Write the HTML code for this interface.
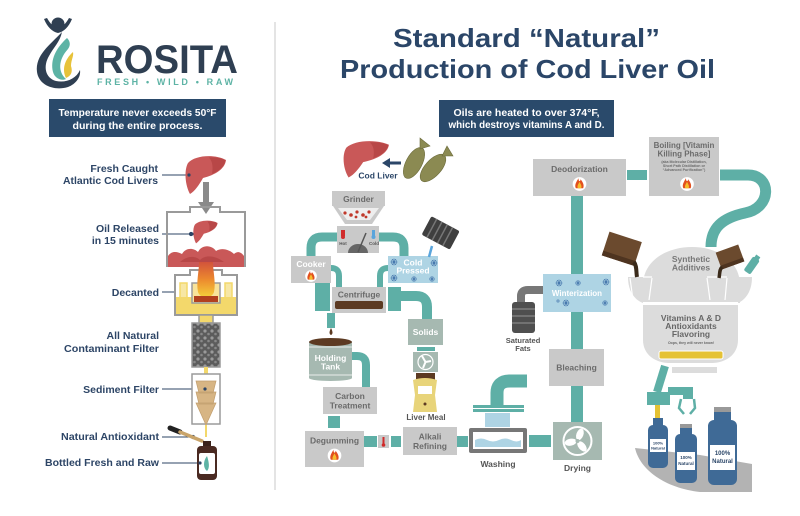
<!DOCTYPE html>
<html><head><meta charset="utf-8"><style>
html,body{margin:0;padding:0;background:#fff;}
svg{display:block;}
text{font-family:"Liberation Sans",sans-serif;font-weight:bold;}
</style></head><body>
<svg width="800" height="516" viewBox="0 0 800 516" xmlns="http://www.w3.org/2000/svg">
<defs>
<g id="fire"><circle r="6.5" fill="#fff"/><path d="M-3.5,4 C-5,1 -3,-2 -1,-5.5 C-1,-2 1,-2 1,-4.5 C3,-2 4.8,1 3.5,4 Z" fill="#e2501e"/><path d="M-1.6,4 C-2.6,2 -1,0 0,-2 C1,0 2.6,2 1.6,4 Z" fill="#f6bd2c"/></g>
<g id="snow" stroke="#3d6fa8" stroke-width="0.8" fill="none"><circle r="3" stroke-width="0.5"/><path d="M-3,0H3M-1.5,-2.6L1.5,2.6M-1.5,2.6L1.5,-2.6"/></g>
<g id="liver"><path d="M3,8 C10,0 30,-1 41,5 C40,14 30,20 18,23 C14,30 10,36 5,39 C0,30 -1,15 3,8 Z" fill="#c95858"/><path d="M24,2.5 C31,2 37,3 40.5,5.5 C39,12 34,16 27,19 C28,13 28,7 24,2.5 Z" fill="#b84747"/></g>
<linearGradient id="flame" x1="0" y1="0" x2="0" y2="1"><stop offset="0" stop-color="#d2533b"/><stop offset="0.5" stop-color="#ec8a2e"/><stop offset="1" stop-color="#f5d03a"/></linearGradient>
<pattern id="pebble" width="7" height="7" patternUnits="userSpaceOnUse"><rect width="7" height="7" fill="#5c5c5c"/><circle cx="2" cy="2" r="1.6" fill="#9a9a9a"/><circle cx="5.5" cy="5" r="1.3" fill="#888"/></pattern>
</defs>
<rect width="800" height="516" fill="#fff"/>

<!-- divider -->
<line x1="275" y1="22" x2="275" y2="490" stroke="#dcdcdc" stroke-width="1.5"/>

<!-- LOGO -->
<circle cx="58" cy="24" r="6.5" fill="#2f3f52"/>
<path d="M44,19 Q49,31 58,33 Q67,31 72,19 L69,18 Q64,27 58,28 Q52,27 47,18 Z" fill="#2f3f52"/>
<path d="M62,32 C50,45 35,55 37,72 C39,86 55,91 68,87 C76,84 81,77 80,70 C76,79 66,83 56,81 C45,78 43,66 49,56 C53,48 60,42 62,32 Z" fill="#2f3f52"/>
<path d="M67,38 C56,48 50,60 53,72 C55,79 62,81 66,79 C58,72 58,60 68,49 C71,45 70,41 67,38 Z" fill="#5db3a5"/>
<path d="M73,52 C64,60 62,70 66,78 C71,76 73,72 71,66 C71,60 74,56 73,52 Z" fill="#e7c23a"/>
<text x="96" y="73" font-size="40" fill="#2f3f52" textLength="142" lengthAdjust="spacingAndGlyphs">ROSITA</text>
<text x="97" y="85" font-size="9" fill="#5db3a5" textLength="136" lengthAdjust="spacing">FRESH • WILD • RAW</text>

<!-- left box -->
<rect x="49" y="99" width="177" height="38" fill="#2a4a6b"/>
<text x="137.5" y="116" font-size="10.5" fill="#fff" text-anchor="middle" textLength="158" lengthAdjust="spacingAndGlyphs">Temperature never exceeds 50°F</text>
<text x="137.5" y="129" font-size="10.5" fill="#fff" text-anchor="middle" textLength="130" lengthAdjust="spacingAndGlyphs">during the entire process.</text>

<!-- left labels -->
<g font-size="10.5" fill="#2d4566" text-anchor="end">
<text x="158" y="172">Fresh Caught</text>
<text x="158" y="184" textLength="95" lengthAdjust="spacingAndGlyphs">Atlantic Cod Livers</text>
<text x="159" y="232">Oil Released</text>
<text x="159" y="244">in 15 minutes</text>
<text x="159" y="296">Decanted</text>
<text x="159" y="339">All Natural</text>
<text x="159" y="352" textLength="95" lengthAdjust="spacingAndGlyphs">Contaminant Filter</text>
<text x="159" y="393">Sediment Filter</text>
<text x="159" y="440" textLength="98" lengthAdjust="spacingAndGlyphs">Natural Antioxidant</text>
<text x="159" y="466" textLength="114" lengthAdjust="spacingAndGlyphs">Bottled Fresh and Raw</text>
</g>
<g stroke="#2d4566" stroke-width="1" fill="#2d4566">
<line x1="162" y1="175" x2="189" y2="175"/><circle cx="189" cy="175" r="1.6"/>
<line x1="162" y1="234" x2="191" y2="234"/><circle cx="191" cy="234" r="1.6"/>
<line x1="162" y1="292" x2="183" y2="292"/><circle cx="183" cy="292" r="1.6"/>
<line x1="162" y1="389" x2="205" y2="389"/><circle cx="205" cy="389" r="1.6"/>
<line x1="162" y1="437" x2="193" y2="437"/><circle cx="193" cy="437" r="1.6"/>
<line x1="162" y1="463" x2="200" y2="463"/><circle cx="200" cy="463" r="1.6"/>
</g>

<!-- left apparatus -->
<use href="#liver" transform="translate(185,155)"/>
<circle cx="189" cy="175" r="1.6" fill="#2d4566"/>
<rect x="203" y="182" width="6" height="22" fill="#8a8a8a"/>
<path d="M198,202 H214 L206,214 Z" fill="#8a8a8a"/>
<path d="M167,267 V212 H190 V207 H220 V212 H245 V267" fill="none" stroke="#9a9a9a" stroke-width="2"/>
<use href="#liver" transform="translate(193,220) scale(0.6)"/>
<circle cx="192" cy="234" r="1.6" fill="#2d4566"/>
<path d="M168,267 V256 C172,250 178,252 182,254 C186,247 194,248 198,252 C202,244 212,245 216,251 C222,247 230,250 234,254 C238,250 242,253 244,256 V267 Z" fill="#c95858"/>
<path d="M180,262 C188,255 196,256 200,260 C206,254 216,256 224,262 Z" fill="#b84747"/>
<!-- decanted -->
<path d="M175,315 V275 H190 V270 H222 V275 H237 V315 Z" fill="#fff" stroke="#9a9a9a" stroke-width="2"/>
<rect x="176" y="297" width="60" height="17" fill="#f3d86b"/>
<path d="M180,297 V283 H187 V297 M225,297 V283 H232 V297" fill="#f7e7a5" stroke="#f3d86b" stroke-width="1.5"/>
<rect x="192" y="283" width="28" height="20" fill="#f8e39a" stroke="#9a9a9a" stroke-width="1.5"/>
<path d="M199,262 C199,272 196,282 198,292 C200,299 212,299 214,292 C216,282 213,272 213,262 Z" fill="url(#flame)"/>
<rect x="194" y="296" width="24" height="6" fill="#b2401e"/>
<rect x="199" y="315" width="14" height="8" fill="#f3d86b" stroke="#9a9a9a" stroke-width="1.5"/>
<rect x="192" y="323" width="28" height="44" fill="url(#pebble)" stroke="#9a9a9a" stroke-width="1.5"/>
<rect x="204" y="367" width="4" height="7" fill="#f3d86b"/>
<rect x="192" y="374" width="28" height="50" fill="#fff" stroke="#9a9a9a" stroke-width="1.5"/>
<path d="M196,381 H216 L213,393 H199 Z M196,392 H216 L213,404 H199 Z M196,403 H216 L206,425 Z" fill="#d7b584" stroke="#c19e6e" stroke-width="0.7"/>
<rect x="205" y="425" width="2" height="12" fill="#f3d86b"/>
<circle cx="205" cy="389" r="1.6" fill="#2d4566"/>
<path d="M170,428 L180,432" stroke="#222" stroke-width="5" stroke-linecap="round"/>
<path d="M180,432 L202,441" stroke="#c9a46a" stroke-width="3.5" stroke-linecap="round"/>
<rect x="203" y="441" width="8" height="6" fill="#3c221b"/>
<rect x="197" y="446" width="20" height="34" rx="4" fill="#4a2a22"/>
<rect x="199" y="453" width="16" height="21" rx="2" fill="#fff"/>
<path d="M207,456 C203,461 203,468 207,471 C210,468 209,462 207,456 Z" fill="#5db3a5"/>
<circle cx="200" cy="463" r="1.6" fill="#2d4566"/>

<!-- TITLE -->
<text x="526.5" y="47" font-size="26" fill="#2b4668" text-anchor="middle" textLength="267" lengthAdjust="spacingAndGlyphs">Standard “Natural”</text>
<text x="527.5" y="78" font-size="26" fill="#2b4668" text-anchor="middle" textLength="375" lengthAdjust="spacingAndGlyphs">Production of Cod Liver Oil</text>
<rect x="439" y="100" width="175" height="37" fill="#2a4a6b"/>
<text x="526.5" y="116" font-size="10" fill="#fff" text-anchor="middle" textLength="146" lengthAdjust="spacingAndGlyphs">Oils are heated to over 374°F,</text>
<text x="526.5" y="128" font-size="10" fill="#fff" text-anchor="middle" textLength="156" lengthAdjust="spacingAndGlyphs">which destroys vitamins A and D.</text>

<!-- cod liver & fish -->
<use href="#liver" transform="translate(343,140) scale(1.12,0.96)"/>
<path d="M401,163 H389" stroke="#2b4668" stroke-width="3"/>
<path d="M390,158 L382,163 L390,168 Z" fill="#2b4668"/>
<text x="378" y="178.5" font-size="8.5" fill="#2b4668" text-anchor="middle">Cod Liver</text>
<g fill="#8b8a52" stroke="#6b6a3a" stroke-width="0.6">
<ellipse cx="414" cy="163" rx="17" ry="8" transform="rotate(-62 414 163)"/>
<path d="M420,149 L420,138 L430,146 Z"/>
<ellipse cx="433" cy="168" rx="17" ry="8" transform="rotate(-48 433 168)"/>
<path d="M442,156 L447,146 L453,156 Z"/>
</g>

<!-- grinder -->
<rect x="332" y="191" width="53" height="15" fill="#c9c9c9"/>
<text x="358.5" y="202" font-size="8.5" fill="#6b6b6b" text-anchor="middle">Grinder</text>
<path d="M333,206 H384 L372,224 H345 Z" fill="#c9c9c9"/>
<path d="M338,208 H379 L370,220 H347 Z" fill="#eee"/>
<g fill="#c0392b"><circle cx="345" cy="213" r="1.6"/><circle cx="351" cy="215" r="1.8"/><circle cx="357" cy="212" r="1.6"/><circle cx="363" cy="215" r="1.8"/><circle cx="369" cy="212" r="1.6"/><circle cx="356" cy="217" r="1.4"/><circle cx="366" cy="217" r="1.4"/></g>
<!-- pipes top -->
<g fill="none" stroke="#5eafa6" stroke-linecap="butt">
<path d="M338,237 H322 Q311,237 311,248 V257" stroke-width="9"/>
<path d="M378,237 H393 Q404,237 404,248 V257" stroke-width="9"/>
<path d="M331,268 Q339,268 339,276 V288" stroke-width="6"/>
<path d="M388,268 Q380,268 380,276 V288" stroke-width="6"/>
<path d="M400,296 H416 Q427,296 427,307 V319" stroke-width="10"/>
<path d="M352,356 H357 Q366,356 366,365 V388" stroke-width="8"/>
<path d="M711,247 C711,228 722,218 745,213 C772,208 772,175 748,175 H720" stroke-width="11"/>
</g>
<rect x="337" y="226" width="42" height="27" fill="#c9c9c9"/>
<path d="M348,253 A10,9 0 0 1 368,253 Z" fill="#666"/>
<line x1="358" y1="252" x2="366" y2="233" stroke="#555" stroke-width="1.5"/>
<rect x="341" y="230" width="4" height="6" fill="#d02b2b"/><circle cx="343" cy="237" r="2" fill="#d02b2b"/>
<rect x="372" y="230" width="3" height="6" fill="#5aa5dc"/><circle cx="373.5" cy="237" r="2" fill="#5aa5dc"/>
<text x="343" y="245" font-size="4.5" fill="#555" text-anchor="middle">Hot</text>
<text x="374" y="245" font-size="4.5" fill="#555" text-anchor="middle">Cold</text>

<!-- cooker / cold pressed -->
<rect x="291" y="256" width="40" height="27" fill="#c9c9c9"/>
<text x="311" y="267" font-size="8.5" fill="#fff" text-anchor="middle">Cooker</text>
<use href="#fire" transform="translate(311,276) scale(0.9)"/>
<rect x="388" y="256" width="50" height="27" fill="#aed4e4"/>
<text x="413" y="265.5" font-size="8.5" fill="#fff" text-anchor="middle">Cold</text>
<text x="413" y="273.5" font-size="8.5" fill="#fff" text-anchor="middle">Pressed</text>
<use href="#snow" transform="translate(394,262)"/><use href="#snow" transform="translate(434,263)"/><use href="#snow" transform="translate(394,278)"/><use href="#snow" transform="translate(414,279) scale(0.8)"/><use href="#snow" transform="translate(432,279) scale(0.8)"/>
<g transform="rotate(28 440 232)"><rect x="425" y="222" width="32" height="21" rx="2" fill="#3f3f3f"/><path d="M431,222 V243 M437,222 V243 M443,222 V243 M449,222 V243" stroke="#777" stroke-width="1.5"/></g>
<path d="M432,246 L429,257" stroke="#5aa5dc" stroke-width="2.5"/>

<!-- centrifuge -->
<rect x="315" y="283" width="15" height="28" fill="#5eafa6"/>
<rect x="388" y="287" width="13" height="24" fill="#5eafa6"/>
<rect x="332" y="287" width="54" height="26" fill="#c9c9c9"/>
<text x="359" y="297.5" font-size="8.5" fill="#6b6b6b" text-anchor="middle">Centrifuge</text>
<rect x="335" y="301" width="48" height="8" rx="2" fill="#5c3a22"/>
<rect x="327" y="313" width="8" height="15" fill="#5eafa6"/>
<path d="M331,328 C329,332 329,334 331,335 C333,334 333,332 331,328 Z" fill="#5c3a22"/>

<!-- holding tank -->
<rect x="309" y="342" width="43" height="36" fill="#a6b9b1"/>
<ellipse cx="330.5" cy="378" rx="21.5" ry="3" fill="#a6b9b1"/>
<ellipse cx="330.5" cy="342" rx="21.5" ry="4" fill="#5c3a22"/>
<line x1="309" y1="347" x2="352" y2="347" stroke="#fff" stroke-width="0.8"/>
<line x1="309" y1="375" x2="352" y2="375" stroke="#fff" stroke-width="0.8"/>
<text x="330.5" y="361" font-size="8.5" fill="#fff" text-anchor="middle">Holding</text>
<text x="330.5" y="369.5" font-size="8.5" fill="#fff" text-anchor="middle">Tank</text>

<rect x="323" y="387" width="54" height="27" fill="#c9c9c9"/>
<text x="350" y="399" font-size="8.5" fill="#6b6b6b" text-anchor="middle">Carbon</text>
<text x="350" y="408.5" font-size="8.5" fill="#6b6b6b" text-anchor="middle">Treatment</text>
<rect x="328" y="416" width="12" height="12" fill="#5eafa6"/>

<rect x="305" y="431" width="59" height="36" fill="#c9c9c9"/>
<text x="334.5" y="443.5" font-size="8.5" fill="#6b6b6b" text-anchor="middle">Degumming</text>
<use href="#fire" transform="translate(334.5,455.5) scale(1.05)"/>
<rect x="364" y="436" width="13" height="11" fill="#5eafa6"/>
<rect x="378" y="435" width="11" height="13" fill="#c9c9c9"/>
<rect x="382.5" y="437" width="2" height="7" fill="#d02b2b"/><circle cx="383.5" cy="445" r="1.8" fill="#d02b2b"/>
<rect x="391" y="436" width="10" height="11" fill="#5eafa6"/>
<rect x="403" y="427" width="54" height="28" fill="#c9c9c9"/>
<text x="430" y="439.5" font-size="8.5" fill="#6b6b6b" text-anchor="middle">Alkali</text>
<text x="430" y="449" font-size="8.5" fill="#6b6b6b" text-anchor="middle">Refining</text>
<rect x="457" y="436" width="11" height="11" fill="#5eafa6"/>

<!-- solids / liver meal -->
<rect x="408" y="319" width="35" height="26" fill="#a6b9b1"/>
<text x="425.5" y="335" font-size="8.5" fill="#fff" text-anchor="middle">Solids</text>
<rect x="417" y="347" width="18" height="4" fill="#5eafa6"/>
<rect x="413" y="352" width="25" height="20" fill="#a6b9b1"/>
<circle cx="425.5" cy="362" r="7.5" fill="none" stroke="#fff" stroke-width="1.2"/>
<path d="M425.5,362 L422,356 M425.5,362 L431,361 M425.5,362 L423,368" stroke="#fff" stroke-width="2"/>
<rect x="416" y="373" width="19" height="7" fill="#5c3a22"/>
<path d="M413,380 Q425,376 437,380 L435,395 L437,412 H413 L415,395 Z" fill="#e8d47a"/>
<rect x="418" y="386" width="14" height="8" fill="#fff"/>
<circle cx="425" cy="404" r="1.5" fill="#5c3a22"/>
<text x="426" y="420" font-size="8" fill="#555" text-anchor="middle">Liver Meal</text>

<!-- washing -->
<path d="M497,407 V393 Q497,381 510,381 H527" fill="none" stroke="#5eafa6" stroke-width="13"/>
<rect x="473" y="405" width="51" height="3" fill="#5eafa6"/>
<rect x="473" y="409" width="51" height="3" fill="#5eafa6"/>
<rect x="485" y="413" width="25" height="14" fill="#aed4e4"/>
<rect x="469" y="428" width="58" height="25" rx="2" fill="#777"/>
<rect x="473" y="432" width="50" height="17" fill="#fff"/>
<path d="M475,440 Q481,437 487,440 T499,440 T511,440 T521,440 V447 H475 Z" fill="#aed4e4"/>
<text x="498" y="467" font-size="8.5" fill="#555" text-anchor="middle">Washing</text>
<rect x="529" y="435" width="22" height="12" fill="#5eafa6"/>

<!-- drying -->
<rect x="553" y="422" width="49" height="38" fill="#a6b9b1"/>
<circle cx="577.5" cy="441" r="14" fill="none" stroke="#fff" stroke-width="2"/>
<g fill="#fff"><ellipse cx="577.5" cy="434" rx="3.5" ry="6" transform="rotate(20 577.5 441)"/><ellipse cx="577.5" cy="434" rx="3.5" ry="6" transform="rotate(140 577.5 441)"/><ellipse cx="577.5" cy="434" rx="3.5" ry="6" transform="rotate(260 577.5 441)"/></g>
<circle cx="577.5" cy="441" r="2" fill="#a6b9b1"/>
<text x="577.5" y="471" font-size="8.5" fill="#555" text-anchor="middle">Drying</text>

<!-- vertical pipes -->
<rect x="571" y="196" width="12" height="78" fill="#5eafa6"/>
<rect x="571" y="312" width="12" height="37" fill="#5eafa6"/>
<rect x="571" y="386" width="12" height="36" fill="#5eafa6"/>

<rect x="549" y="349" width="55" height="37" fill="#c9c9c9"/>
<text x="576.5" y="370.5" font-size="8.5" fill="#6b6b6b" text-anchor="middle">Bleaching</text>

<rect x="543" y="274" width="68" height="38" fill="#aed4e4"/>
<text x="577" y="296" font-size="8" fill="#fff" text-anchor="middle">Winterization</text>
<use href="#snow" transform="translate(559,283)"/><use href="#snow" transform="translate(578,283) scale(0.8)"/><use href="#snow" transform="translate(606,282)"/><use href="#snow" transform="translate(566,303)"/><use href="#snow" transform="translate(605,303) scale(0.8)"/><use href="#snow" transform="translate(558,301) scale(0.5)"/>

<!-- saturated fats -->
<path d="M521,305 V296 Q521,290 528,290 H543" fill="none" stroke="#777" stroke-width="8"/>
<rect x="512" y="302" width="23" height="31" rx="3" fill="#4f4f4f"/>
<path d="M512,309 H535 M512,316 H535 M512,323 H535" stroke="#888" stroke-width="1.2"/>
<text x="523" y="343" font-size="7.5" fill="#555" text-anchor="middle">Saturated</text>
<text x="523" y="351" font-size="7.5" fill="#555" text-anchor="middle">Fats</text>

<!-- deodorization / boiling -->
<rect x="533" y="159" width="93" height="37" fill="#c9c9c9"/>
<text x="579.5" y="172" font-size="8.5" fill="#6b6b6b" text-anchor="middle">Deodorization</text>
<use href="#fire" transform="translate(579.5,184) scale(1.05)"/>
<rect x="627" y="170" width="20" height="10" fill="#5eafa6"/>
<rect x="649" y="137" width="70" height="59" fill="#c9c9c9"/>
<text x="684" y="148" font-size="8" fill="#6b6b6b" text-anchor="middle">Boiling [Vitamin</text>
<text x="684" y="156.5" font-size="8" fill="#6b6b6b" text-anchor="middle">Killing Phase]</text>
<text x="684" y="163" font-size="3.6" fill="#6b6b6b" text-anchor="middle">(aka Molecular Distillation,</text>
<text x="684" y="167" font-size="3.6" fill="#6b6b6b" text-anchor="middle">Short Path Distillation or</text>
<text x="684" y="171" font-size="3.6" fill="#6b6b6b" text-anchor="middle">“Advanced Purification”)</text>
<use href="#fire" transform="translate(687,184) scale(1.05)"/>

<!-- big tank -->
<path d="M643,303 V285 C643,262 665,247 692,247 C719,247 740,262 740,285 V303 Z" fill="#dcdcdc"/>
<path d="M628,277 H752 C752,292 745,300 738,303 H643 C635,300 628,292 628,277 Z" fill="#dcdcdc"/>
<path d="M630,278 L633,300 M652,278 L649,300 M707,278 L710,300 M727,278 L725,300 M643,277 H652 M707,277 H727" stroke="#fff" stroke-width="1.2" fill="none"/>
<rect x="643" y="302" width="95" height="3" fill="#fff"/>
<path d="M643,305 H738 V340 C738,355 725,363 712,363 H669 C656,363 643,355 643,340 Z" fill="#dcdcdc"/>
<text x="691" y="262" font-size="8.5" fill="#777" text-anchor="middle">Synthetic</text>
<text x="691" y="270.5" font-size="8.5" fill="#777" text-anchor="middle">Additives</text>
<text x="691" y="321" font-size="8.5" fill="#666" text-anchor="middle">Vitamins A &amp; D</text>
<text x="691" y="329" font-size="8.5" fill="#666" text-anchor="middle">Antioxidants</text>
<text x="691" y="337" font-size="8.5" fill="#666" text-anchor="middle">Flavoring</text>
<text x="691" y="344" font-size="3.5" fill="#666" text-anchor="middle">Oops, they will never know!</text>
<rect x="659" y="351" width="64" height="8" rx="2" fill="#e5c234" stroke="#fff" stroke-width="1"/>
<rect x="672" y="367" width="45" height="6" fill="#dcdcdc"/>
<g transform="rotate(18 621 248)"><rect x="605" y="236" width="34" height="25" fill="#6b4a2e"/><rect x="605" y="256" width="34" height="5" fill="#4e3420"/></g>
<path d="M634,262 C637,266 636,272 637,277" stroke="#3a2a1a" stroke-width="4" fill="none"/>
<g transform="rotate(-20 730 257)"><rect x="718" y="248" width="24" height="18" fill="#6b4a2e"/><rect x="718" y="262" width="24" height="4" fill="#4e3420"/></g>
<path d="M722,267 C719,270 720,274 719,278" stroke="#3a2a1a" stroke-width="3.5" fill="none"/>
<g transform="rotate(35 752 265)"><rect x="748" y="257" width="8" height="17" rx="2" fill="#5eafa6"/><rect x="749.5" y="254" width="5" height="4" fill="#5eafa6"/></g>

<!-- bottling -->
<path d="M665,366 L657,392" stroke="#5eafa6" stroke-width="8"/>
<rect x="647" y="392" width="23" height="13" fill="#5eafa6"/>
<rect x="668" y="387" width="25" height="8" fill="#5eafa6"/>
<rect x="683" y="387" width="10" height="12" fill="#5eafa6"/>
<path d="M681,399 L679,408 L684,414 M694,399 L695,408 L690,414" stroke="#5eafa6" stroke-width="2.5" fill="none"/>
<rect x="655" y="405" width="5" height="14" fill="#e5c234"/>
<path d="M635,448 L700,455 L752,464 V492 H700 C665,488 640,470 635,448 Z" fill="#b3b3b3"/>
<g fill="#3f6a96">
<rect x="653" y="418" width="10" height="9"/><rect x="648" y="425" width="20" height="43" rx="5"/>
<rect x="680" y="428" width="12" height="7"/><rect x="675" y="434" width="22" height="49" rx="5"/>
<rect x="714" y="412" width="17" height="9"/><rect x="708" y="420" width="29" height="65" rx="6"/>
</g>
<rect x="680" y="424" width="12" height="4" fill="#999"/>
<rect x="714" y="407" width="17" height="5" fill="#999"/>
<rect x="650" y="439" width="16" height="13" fill="#fff"/>
<rect x="677" y="452" width="18" height="18" fill="#fff"/>
<rect x="710" y="445" width="25" height="25" fill="#fff"/>
<g fill="#2b4668" text-anchor="middle">
<text x="658" y="444.5" font-size="4">100%</text><text x="658" y="449.5" font-size="4">Natural</text>
<text x="686" y="459" font-size="4.5">100%</text><text x="686" y="465" font-size="4.5">Natural</text>
<text x="722.5" y="455" font-size="6">100%</text><text x="722.5" y="463" font-size="6">Natural</text>
</g>
</svg>
</body></html>
